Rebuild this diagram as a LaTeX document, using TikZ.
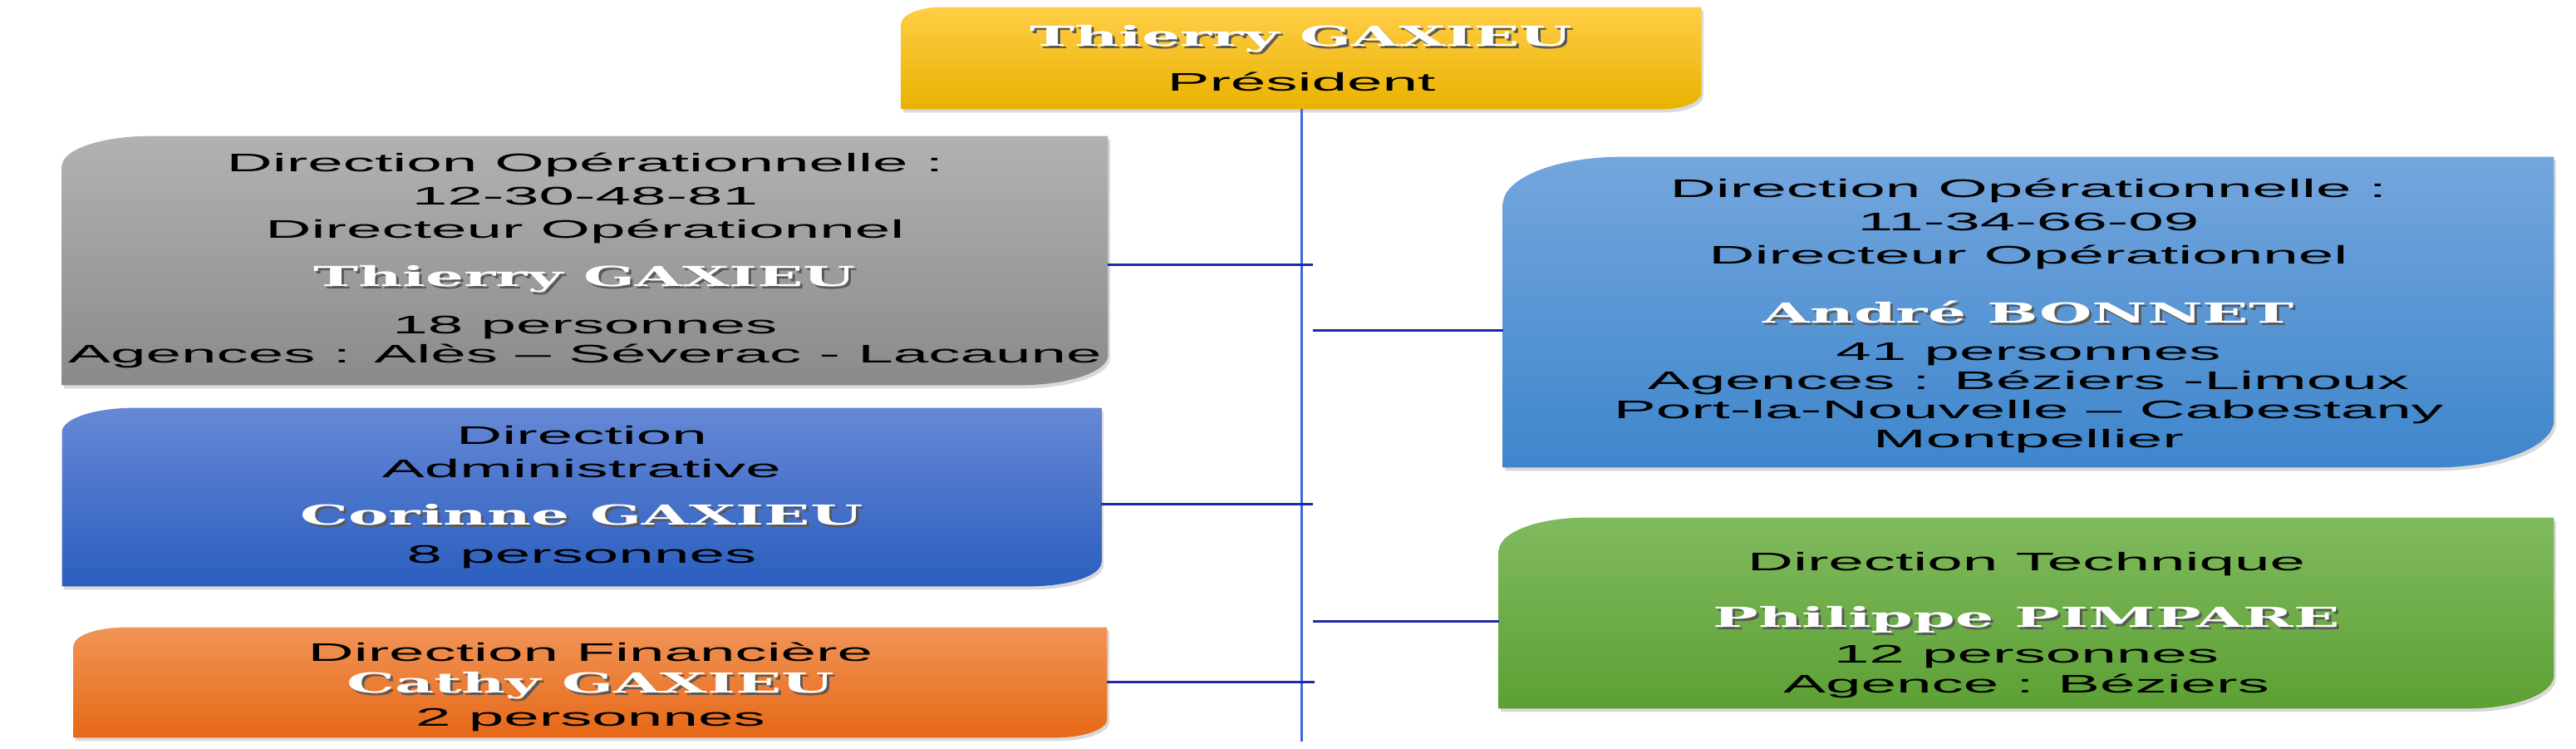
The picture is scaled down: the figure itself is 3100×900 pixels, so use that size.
\documentclass[tikz,border=0pt]{standalone}
\usepackage{fontspec}
\setmainfont{Liberation Sans}[FakeStretch=2.5]
\newfontfamily\namefont{DejaVu Serif}[FakeStretch=2.2]
\usetikzlibrary{shadows}
\definecolor{presTop}{RGB}{255,206,70}
\definecolor{presBot}{RGB}{233,178,0}
\definecolor{greyTop}{RGB}{178,178,178}
\definecolor{greyBot}{RGB}{138,138,138}
\definecolor{admTop}{RGB}{102,136,214}
\definecolor{admBot}{RGB}{42,94,190}
\definecolor{finTop}{RGB}{241,148,88}
\definecolor{finBot}{RGB}{229,104,22}
\definecolor{opTop}{RGB}{116,166,221}
\definecolor{opBot}{RGB}{62,134,204}
\definecolor{tecTop}{RGB}{128,186,94}
\definecolor{tecBot}{RGB}{92,160,52}
\definecolor{trunkBlue}{RGB}{62,104,220}
\definecolor{linkBlue}{RGB}{30,42,168}
% name line: white serif with a dark shadow
\newcommand\nm[1]{{\namefont\bfseries\fontsize{18.8}{22.8}\selectfont\makebox[0pt][l]{\hspace{0.6mm}\raisebox{-0.6mm}{\color{black!65}#1}}\textcolor{white}{#1}}}
% box with rounded top left and bottom right corners
\newcommand\leafshape[5]{%
  \shade[leaf,top color=#2,bottom color=#3]
    (#1.south west) -- ([yshift=-#4]#1.north west)
    arc[start angle=180,end angle=90,x radius=#5,y radius=#4]
    -- (#1.north east) -- ([yshift=#4]#1.south east)
    arc[start angle=0,end angle=-90,x radius=#5,y radius=#4]
    -- cycle;}
\begin{document}
\begin{tikzpicture}[x=0.2mm,y=-0.2mm,
   font=\fontsize{17.4}{22.8}\selectfont,
   box/.style={inner sep=0pt},
   txt/.style={align=center,inner sep=0pt},
   leaf/.style={drop shadow={shadow xshift=0.5mm,shadow yshift=-0.8mm,opacity=0.3}},
   trunk/.style={line width=0.6mm,trunkBlue},
   link/.style={line width=0.6mm,linkBlue}]
\useasboundingbox (0,0) rectangle (3100,900);
\node[box,minimum width=192.4mm,minimum height=24.4mm] (pres) at (1566,70) {};
\node[box,minimum width=251.6mm,minimum height=59.8mm] (dop1) at (704,313.5) {};
\node[box,minimum width=250mm,minimum height=42.8mm] (dadm) at (700,598) {};
\node[box,minimum width=248.6mm,minimum height=26.4mm] (dfin) at (710.5,821) {};
\node[box,minimum width=252.8mm,minimum height=74.6mm] (dop2) at (2441,375.5) {};
\node[box,minimum width=253.8mm,minimum height=45.8mm] (dtec) at (2438.5,737.5) {};
\leafshape{pres}{presTop}{presBot}{4mm}{9.6mm}
\leafshape{dop1}{greyTop}{greyBot}{7.2mm}{21.4mm}
\leafshape{dadm}{admTop}{admBot}{5.8mm}{17.4mm}
\leafshape{dfin}{finTop}{finBot}{4.4mm}{12.6mm}
\leafshape{dop2}{opTop}{opBot}{11.4mm}{28.6mm}
\leafshape{dtec}{tecTop}{tecBot}{8mm}{20.8mm}
\node[txt] (pres-t) at (pres) {\nm{Thierry GAXIEU}\\[2.8mm]Président};
\node[txt] (dop1-t) at (dop1) {Direction Opérationnelle :\\12-30-48-81\\Directeur Opérationnel\\[3.6mm]
  \nm{Thierry GAXIEU}\\[3.4mm]18 personnes\\[-1mm]Agences : Alès – Séverac - Lacaune};
\node[txt] (dadm-t) at (dadm) {Direction\\Administrative\\[3.4mm]\nm{Corinne GAXIEU}\\[1mm]8 personnes};
\node[txt,yshift=-1mm] (dfin-t) at (dfin) {Direction Financière\\[-0.4mm]\nm{Cathy GAXIEU}\\2 personnes};
\node[txt,yshift=-0.9mm] (dop2-t) at (dop2) {Direction Opérationnelle :\\11-34-66-09\\Directeur Opérationnel\\[6.2mm]
  \nm{André BONNET}\\[1mm]41 personnes\\[-1mm]Agences : Béziers -Limoux\\[-1mm]Port-la-Nouvelle – Cabestany\\[-1mm]Montpellier};
\node[txt,yshift=-2.9mm] (dtec-t) at (dtec) {Direction Technique\\[5.6mm]\nm{Philippe PIMPARE}\\[0.6mm]12 personnes\\[-1mm]Agence : Béziers};
\coordinate (foot) at (1566,892);
\coordinate (j1) at (1580,318);
\coordinate (j2) at (1580,606);
\coordinate (j3) at (1582,820);
\coordinate (j4) at (1580,397);
\coordinate (j5) at (1580,747);
\draw[trunk] (pres.south) -- (foot);
\draw[link] (dop1.east |- j1) -- (j1);
\draw[link] (dadm.east |- j2) -- (j2);
\draw[link] (dfin.east |- j3) -- (j3);
\draw[link] (j4) -- (dop2.west |- j4);
\draw[link] (j5) -- (dtec.west |- j5);
\end{tikzpicture}
\end{document}
